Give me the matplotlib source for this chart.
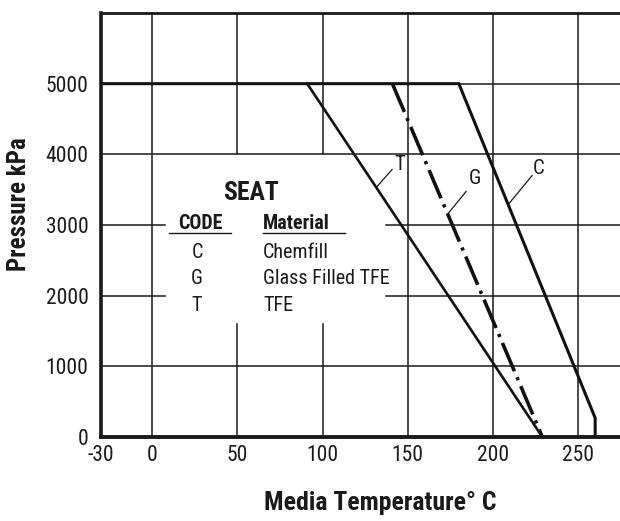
import matplotlib
matplotlib.use("Agg")
import matplotlib.pyplot as plt
from matplotlib import font_manager

# ---- data ----
x_ticks = [-30, 0, 50, 100, 150, 200, 250]
y_ticks = [0, 1000, 2000, 3000, 4000, 5000]
t_temp = [91, 229]
t_pres = [5000, 0]
g_temp = [141, 229]
g_pres = [5000, 0]
c_temp = [-30, 180, 260, 260]
c_pres = [5000, 5000, 270, 0]
codes = ["C", "G", "T"]
materials = ["Chemfill", "Glass Filled TFE", "TFE"]

# ---- choose condensed fonts (regular + bold) ----
def wnum(w):
    if isinstance(w, (int, float)):
        return int(w)
    return font_manager.weight_dict.get(str(w), 400)

cands = {}
for f in font_manager.fontManager.ttflist:
    n = f.name
    st = str(f.stretch)
    if 'Narrow' in n or 'Condensed' in n or st in ('condensed', 'semi-condensed'):
        key = (n, 'condensed' if st in ('condensed', 'semi-condensed') else 'normal')
        cands.setdefault(key, set()).add(wnum(f.weight))

reg_choice = None
bold_choice = None
pref = ['Liberation Sans Narrow', 'Roboto Condensed', 'Open Sans Condensed', 'DejaVu Sans']
keys = sorted(cands.keys(), key=lambda k: (pref.index(k[0]) if k[0] in pref else 99, k[0]))
for k in keys:
    ws = cands[k]
    if reg_choice is None and any(350 <= w <= 500 for w in ws):
        reg_choice = k
    if bold_choice is None and any(w >= 600 for w in ws):
        bold_choice = k
if reg_choice is None:
    reg_choice = ('Roboto', 'normal')
if bold_choice is None:
    bold_choice = reg_choice

plt.rcParams['font.family'] = [reg_choice[0], 'DejaVu Sans']
plt.rcParams['font.stretch'] = reg_choice[1]
plt.rcParams['axes.unicode_minus'] = False
BOLD = dict(family=[bold_choice[0], 'DejaVu Sans'], stretch=bold_choice[1], fontweight='bold')

W, H = 620, 521
fig = plt.figure(figsize=(W/100, H/100), dpi=100)
x0, x1 = -30, 275
y0, y1 = 0, 6000
left_px, right_px = 101, 101 + (x1 - x0) * 1.704
bot_px, top_px = 437, 13
ax = fig.add_axes([left_px/W, (H-bot_px)/H, (right_px-left_px)/W, (bot_px-top_px)/H])
ax.set_xlim(x0, x1)
ax.set_ylim(y0, y1)

# spines
ax.spines['right'].set_visible(False)
ax.spines['left'].set_linewidth(2.6)
ax.spines['bottom'].set_linewidth(2.8)
ax.spines['top'].set_linewidth(2.0)
for s in ax.spines.values():
    s.set_color('#1a1a1a')

ax.set_xticks(x_ticks)
ax.set_yticks(y_ticks)
ax.tick_params(length=0, labelsize=15.5, colors='#1a1a1a')
ax.tick_params(axis='y', pad=9)
ax.tick_params(axis='x', pad=6)

gkw = dict(color='#1a1a1a', lw=1.1, zorder=1)
# vertical grid lines (some interrupted by the legend)
ax.plot([0, 0], [0, 6000], **gkw)
for xv in [50, 100]:
    ax.plot([xv, xv], [4000, 6000], **gkw)
    ax.plot([xv, xv], [0, 1600], **gkw)
for xv in [150, 200, 250]:
    ax.plot([xv, xv], [0, 6000], **gkw)
# horizontal grid lines
for yv in [1000, 4000, 5000]:
    ax.plot([x0, x1], [yv, yv], **gkw)
for yv in [2000, 3000]:
    ax.plot([x0, 7.6], [yv, yv], **gkw)
    ax.plot([137.3, x1], [yv, yv], **gkw)

# curves
ax.plot(c_temp, c_pres, color='#111111', lw=2.2, solid_joinstyle='miter', zorder=3)
ax.plot(t_temp, t_pres, color='#111111', lw=1.9, zorder=3)
ax.plot(g_temp, g_pres, color='#111111', lw=2.6, linestyle=(0, (8.5, 1.8, 0.9, 1.8)), zorder=3)

# curve labels with leaders
lab = dict(fontsize=15, color='#1a1a1a', ha='center', va='center')
ax.plot([140.8, 132], [3785, 3545], color='#1a1a1a', lw=0.9)
ax.text(145.5, 3856, "T", **lab)
ax.plot([184.3, 173.7], [3475, 3164], color='#1a1a1a', lw=0.9)
ax.text(189.6, 3658, "G", **lab)
ax.plot([223, 209.5], [3700, 3305], color='#1a1a1a', lw=0.9)
ax.text(226.8, 3800, "C", **lab)

# legend block
def px2d(px, py):
    return ((px - 152) / 1.704, (437 - py) / 70.8 * 1000)

ax.text(*px2d(250.5, 193), "SEAT", fontsize=18.5, ha='center', va='center', color='#1a1a1a', **BOLD)
ax.text(*px2d(200, 223), "CODE", fontsize=14.5, ha='center', va='center', color='#1a1a1a', **BOLD)
ax.text(*px2d(263, 223), "Material", fontsize=14.5, ha='left', va='center', color='#1a1a1a', **BOLD)
ax.plot(*zip(px2d(169, 233), px2d(231, 233)), color='#1a1a1a', lw=1.0)
ax.plot(*zip(px2d(263, 233), px2d(345, 233)), color='#1a1a1a', lw=1.0)
rows_py = [252, 278, 305]
for code, mat, py in zip(codes, materials, rows_py):
    ax.text(*px2d(197, py), code, fontsize=14.5, ha='center', va='center', color='#1a1a1a')
    ax.text(*px2d(263, py), mat, fontsize=14.5, ha='left', va='center', color='#1a1a1a')

# axis titles
fig.text(19/W, 1 - 204/H, "Pressure kPa", rotation=90, fontsize=18,
         ha='center', va='center', color='#1a1a1a', **BOLD)
fig.text(380/W, 1 - 503/H, "Media Temperature\u00b0 C", fontsize=18.5,
         ha='center', va='center', color='#1a1a1a', **BOLD)

fig.savefig("out.png", dpi=100)
